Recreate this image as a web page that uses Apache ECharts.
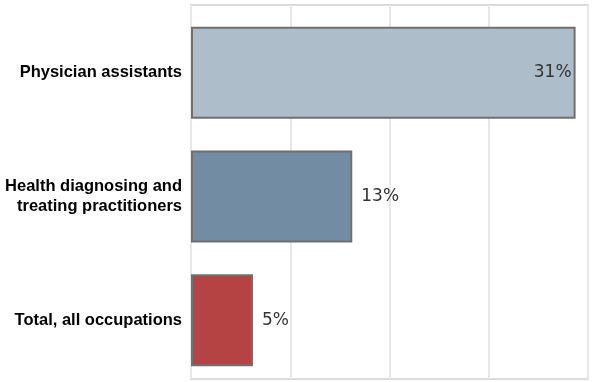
<!DOCTYPE html>
<html><head><meta charset="utf-8">
<script src="https://cdn.jsdelivr.net/npm/echarts@6/dist/echarts.min.js"></script>
<style>html,body{margin:0;padding:0;background:#fff}#c{width:593px;height:382px}</style>
</head><body><div id="c"></div>
<script>
const categories = ["Physician assistants", "Health diagnosing and\ntreating practitioners", "Total, all occupations"];
const values = [31, 13, 5];
const colors = ["#adbdc9", "#718ca3", "#b54343"];
const xTicks = [0, 8, 16, 24, 32];

const xMin = xTicks[0], xMax = xTicks[xTicks.length - 1], step = xTicks[1] - xTicks[0];
const chart = echarts.init(document.getElementById('c'));
chart.setOption({
  animation: false,
  grid: [
    {left: 191, right: 5, top: 5, bottom: 3, show: true, borderColor: '#dadada', borderWidth: 2},
    {left: 191, right: 5, top: 11, bottom: 0}
  ],
  xAxis: [
    {gridIndex: 0, type: 'value', min: xMin, max: xMax, interval: step,
      axisLabel: {show: false}, axisLine: {show: false}, axisTick: {show: false},
      splitLine: {lineStyle: {color: '#e8e8e8', width: 2}}},
    {gridIndex: 1, type: 'value', min: xMin, max: xMax, interval: step, show: false,
      splitLine: {show: false}}
  ],
  yAxis: [
    {gridIndex: 0, type: 'category', data: categories, show: false},
    {gridIndex: 1, type: 'category', data: categories, inverse: true,
      axisLine: {show: false}, axisTick: {show: false}, splitLine: {show: false},
      axisLabel: {color: '#000', fontWeight: 'bold', fontSize: 16.5, fontFamily: 'Liberation Sans, Arial', lineHeight: 20, margin: 9, align: 'right'}}
  ],
  series: [{
    type: 'bar', xAxisIndex: 1, yAxisIndex: 1, barWidth: 92,
    data: values.map((v, i) => ({value: v, itemStyle: {color: colors[i]},
      label: {position: i === 0 ? 'insideRight' : 'right', distance: i === 0 ? 4 : 9}})),
    itemStyle: {borderColor: '#707070', borderWidth: 2},
    label: {show: true, formatter: '{c}%', fontSize: 17, color: '#333', fontFamily: 'DejaVu Sans, Verdana'}
  }]
});
</script></body></html>
